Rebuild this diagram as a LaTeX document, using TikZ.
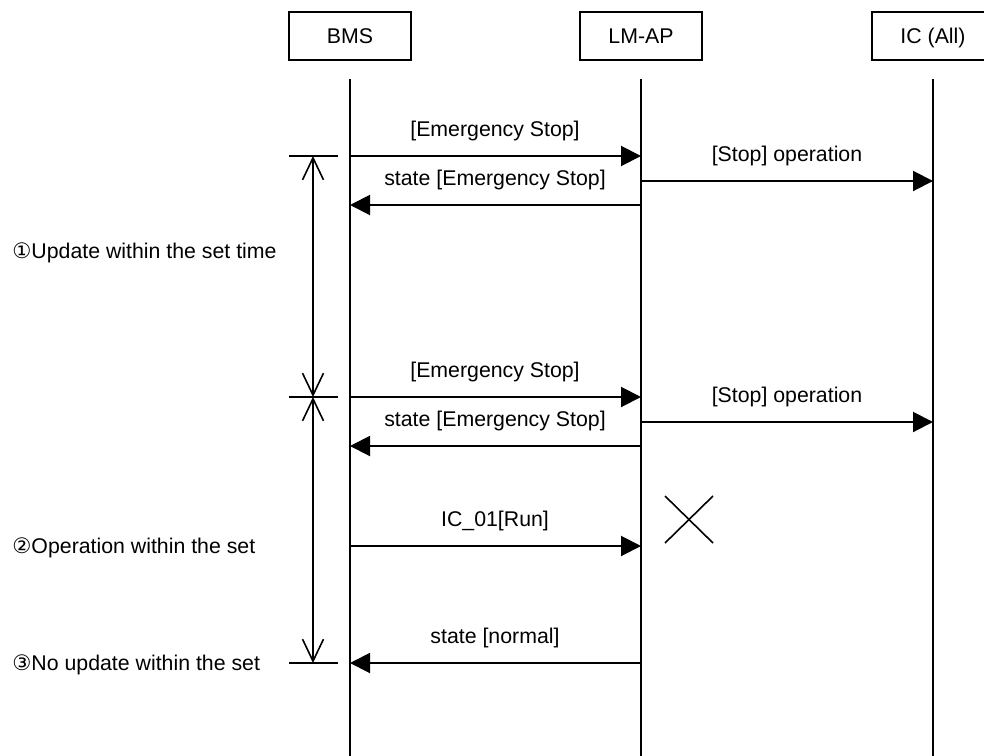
\documentclass[tikz,border=0pt]{standalone}
\usepackage{fontspec}
\setmainfont{Liberation Sans}
\newfontfamily\circfont{DejaVu Sans}
\usetikzlibrary{arrows.meta}
\begin{document}
\begin{tikzpicture}[x=0.5pt,y=-0.5pt,
  every node/.style={font=\fontsize{10.65pt}{12pt}\selectfont, inner sep=0pt},
  actor/.style={draw, line width=1pt, minimum width=61pt, minimum height=24pt, text height=7.7pt, text depth=0pt},
  life/.style={line width=1pt},
  msg/.style={line width=1pt, -{Triangle[length=10pt,width=10pt]}},
  lbl/.style={anchor=base},
  side/.style={anchor=base west},
  dimline/.style={line width=0.8pt, {Straight Barb[length=11pt,width=10.5pt]}-{Straight Barb[length=11pt,width=10.5pt]}},
  tickline/.style={line width=0.8pt},
  cross/.style={line width=0.8pt}]
\useasboundingbox (0,0) rectangle (984,755);
% actors
\node[actor] (bms) at (350,36) {BMS};
\node[actor] (lmap) at (641,36) {LM-AP};
\node[actor] (ic) at (933,36) {IC (All)};
% lifelines
\coordinate (bmsT) at (350,79);  \coordinate (bmsB) at (350,760);
\coordinate (lmT) at (641,79);   \coordinate (lmB) at (641,760);
\coordinate (icT) at (933,79);   \coordinate (icB) at (933,760);
\draw[life] (bmsT) -- (bmsB);
\draw[life] (lmT) -- (lmB);
\draw[life] (icT) -- (icB);
% message end points
\coordinate (b1) at (350,156); \coordinate (l1) at (641,156);
\coordinate (l2) at (641,181); \coordinate (i2) at (933,181);
\coordinate (l3) at (641,205); \coordinate (b3) at (350,205);
\coordinate (b4) at (350,397); \coordinate (l4) at (641,397);
\coordinate (l5) at (641,422); \coordinate (i5) at (933,422);
\coordinate (l6) at (641,446); \coordinate (b6) at (350,446);
\coordinate (b7) at (350,546); \coordinate (l7) at (641,546);
\coordinate (l8) at (641,663); \coordinate (b8) at (350,663);
% messages
\draw[msg] (b1) -- (l1);
\node[lbl] (m1) at (495,136) {[Emergency Stop]};
\draw[msg] (l2) -- (i2);
\node[lbl] (m2) at (787,161) {[Stop] operation};
\draw[msg] (l3) -- (b3);
\node[lbl] (m3) at (495,185) {state [Emergency Stop]};
\draw[msg] (b4) -- (l4);
\node[lbl] (m4) at (495,377) {[Emergency Stop]};
\draw[msg] (l5) -- (i5);
\node[lbl] (m5) at (787,402) {[Stop] operation};
\draw[msg] (l6) -- (b6);
\node[lbl] (m6) at (495,426) {state [Emergency Stop]};
\draw[msg] (b7) -- (l7);
\node[lbl] (m7) at (495,526) {IC\_01[Run]};
\draw[msg] (l8) -- (b8);
\node[lbl] (m8) at (495,643) {state [normal]};
% lost message cross
\coordinate (xa) at (665,496); \coordinate (xb) at (713,543);
\coordinate (xc) at (713,496); \coordinate (xd) at (665,543);
\draw[cross] (xa) -- (xb);
\draw[cross] (xc) -- (xd);
% dimension lines
\coordinate (t1l) at (289,156); \coordinate (t1r) at (338,156);
\coordinate (t2l) at (289,397); \coordinate (t2r) at (338,397);
\coordinate (t3l) at (289,663); \coordinate (t3r) at (338,663);
\draw[tickline] (t1l) -- (t1r);
\draw[tickline] (t2l) -- (t2r);
\draw[tickline] (t3l) -- (t3r);
\coordinate (d1) at (313,156); \coordinate (d2) at (313,397); \coordinate (d3) at (313,663);
\draw[dimline] (d1) -- (d2);
\draw[dimline] (d2) -- (d3);
% side labels
\node[side] (s1) at (12,258) {{\circfont ①}Update within the set time};
\node[side] (s2) at (12,553) {{\circfont ②}Operation within the set};
\node[side] (s3) at (12,670) {{\circfont ③}No update within the set};
\end{tikzpicture}
\end{document}
